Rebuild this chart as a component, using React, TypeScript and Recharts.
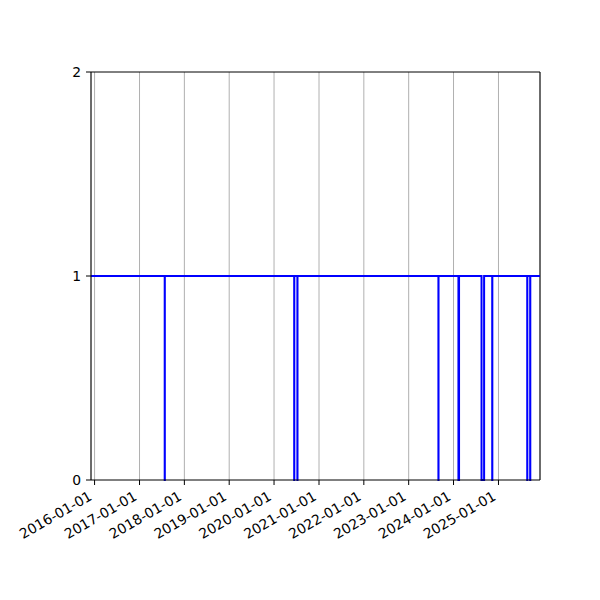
import React from 'react';
import { LineChart, Line, XAxis, YAxis, CartesianGrid, ReferenceLine } from 'recharts';

// Series range and state (1 = up, 0 = down)
const rangeStart = '2015-12-03';
const rangeEnd = '2025-12-05';
const dipStarts = ['2017-07-25', '2020-06-13', '2020-07-09', '2023-08-31', '2024-02-10', '2024-08-16', '2024-11-11', '2025-08-23', '2025-09-16'];
const dipEnds = ['2017-07-26', '2020-06-14', '2020-07-10', '2023-09-01', '2024-02-15', '2024-09-06', '2024-11-12', '2025-08-24', '2025-09-17'];
const xTickLabels = ['2016-01-01', '2017-01-01', '2018-01-01', '2019-01-01', '2020-01-01', '2021-01-01', '2022-01-01', '2023-01-01', '2024-01-01', '2025-01-01'];
const yTicks = [0, 1, 2];

const ts = (s: string) => Date.parse(s);
const data: { t: number; v: number }[] = [{ t: ts(rangeStart), v: 1 }];
dipStarts.forEach((s, i) => {
  data.push({ t: ts(s), v: 0 });
  data.push({ t: ts(dipEnds[i]), v: 1 });
});
data.push({ t: ts(rangeEnd), v: 1 });

const FONT = '"DejaVu Sans", sans-serif';
const FS = 13.9;

const fmt = (v: number) => new Date(v).toISOString().slice(0, 10);

const XTick = (props: any) => {
  const { x, y, payload } = props;
  const ax = x - 1.6;
  const ay = y + 12;
  return (
    <text x={ax} y={ay} textAnchor="end" transform={`rotate(-30, ${ax}, ${ay})`} fontFamily={FONT} fontSize={FS} fill="#000">
      {fmt(payload.value)}
    </text>
  );
};

export default function App() {
  return (
    <div style={{ position: 'absolute', left: 0, top: 0, width: 600, height: 600, background: '#fff' }}>
      <LineChart width={600} height={600} data={data} margin={{ top: 72, right: 60, left: 0, bottom: 60 }}>
        <CartesianGrid horizontal={false} vertical={true} stroke="#b0b0b0" strokeWidth={1} />
        <XAxis
          dataKey="t"
          type="number"
          domain={[ts(rangeStart), ts(rangeEnd)]}
          ticks={xTickLabels.map(ts)}
          tick={<XTick />}
          height={60}
          stroke="#000"
          tickSize={5}
          tickMargin={2}
          interval={0}
          allowDataOverflow
        />
        <YAxis
          type="number"
          domain={[0, 2]}
          ticks={yTicks}
          width={91}
          stroke="#000"
          tickSize={5}
          tickMargin={5}
          tick={{ fill: '#000', fontFamily: FONT, fontSize: FS }}
          interval={0}
        />
        <ReferenceLine y={2} stroke="#000" strokeWidth={1} />
        <ReferenceLine x={ts(rangeEnd)} stroke="#000" strokeWidth={1} />
        <Line type="stepAfter" dataKey="v" stroke="#0000ff" strokeWidth={2} dot={false} isAnimationActive={false} />
      </LineChart>
    </div>
  );
}
